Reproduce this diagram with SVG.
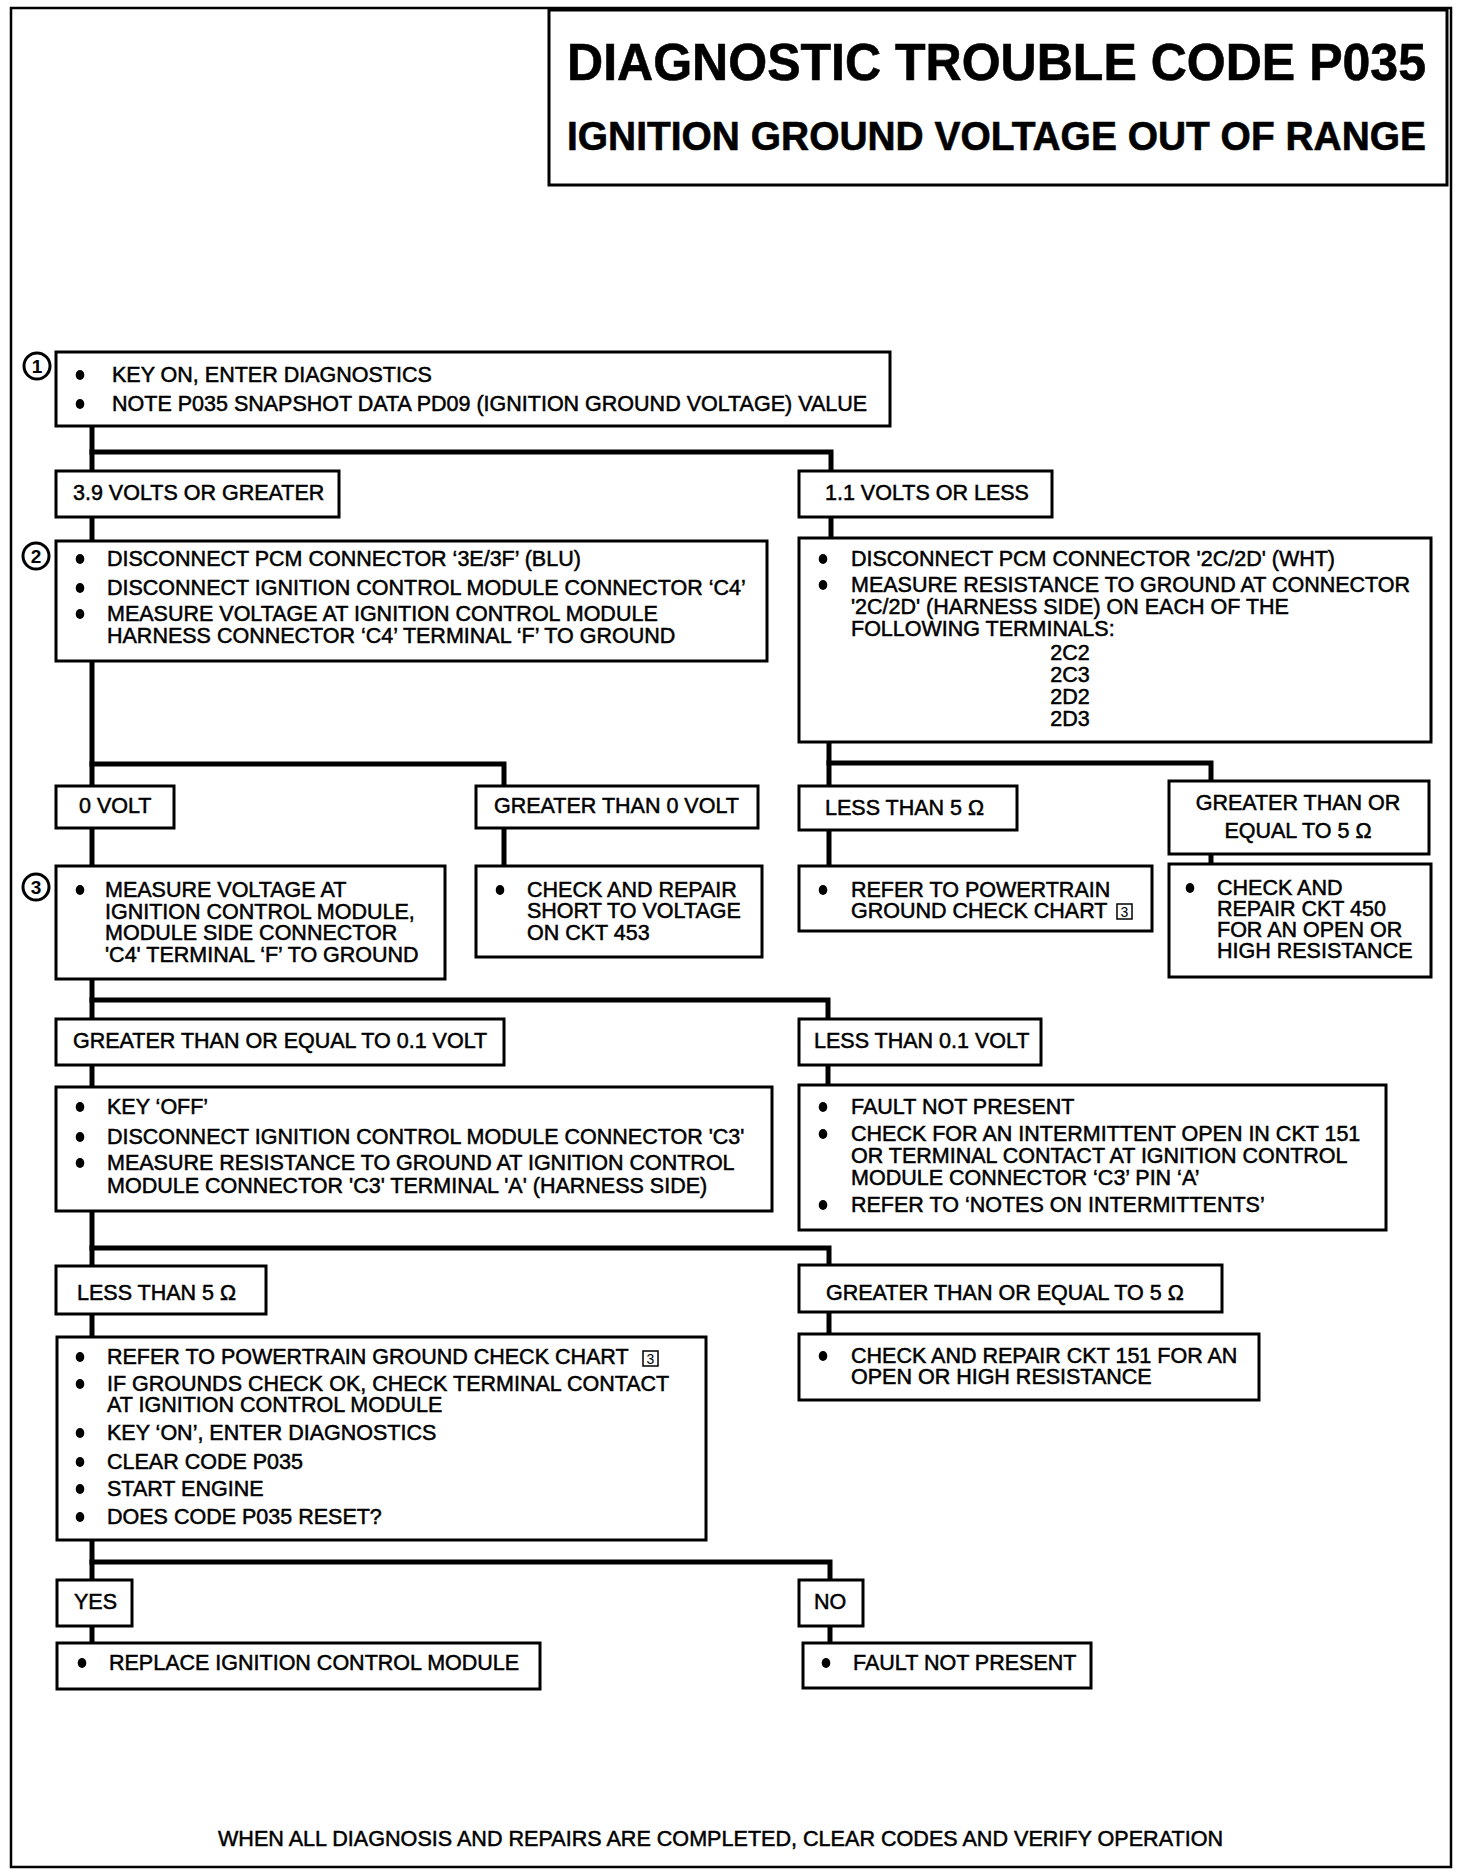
<svg xmlns="http://www.w3.org/2000/svg" width="1472" height="1876" viewBox="0 0 1472 1876">
<style>
.frame{fill:none;stroke:#000;stroke-width:2.5}
.box{fill:#fff;stroke:#000;stroke-width:3}
.tbox{fill:#fff;stroke:#000;stroke-width:3}
.conn{fill:none;stroke:#000;stroke-width:5;stroke-linejoin:miter;stroke-linecap:square}
.t{font-family:"Liberation Sans",Arial,Helvetica,sans-serif;font-size:21.5px;fill:#000;stroke:#000;stroke-width:0.5}
.tc{text-anchor:middle}
.title{font-family:"Liberation Sans",Arial,Helvetica,sans-serif;font-weight:bold;fill:#000;stroke:#000;stroke-width:0.6}
.num{font-family:"Liberation Sans",Arial,sans-serif;font-size:19px;font-weight:bold;fill:#000;text-anchor:middle}
.circ{fill:#fff;stroke:#000;stroke-width:3}
.bul{fill:#000}
.ref{fill:none;stroke:#000;stroke-width:1.5}
.refn{font-family:"Liberation Sans",Arial,sans-serif;font-size:14px;fill:#000;text-anchor:middle}
</style>
<defs>
<ellipse id="b" cx="0" cy="0" rx="4.3" ry="5" class="bul"/>
</defs>
<rect class="frame" x="11" y="8" width="1440" height="1859"/>

<g id="title">
<rect class="tbox" x="549" y="10" width="898" height="175"/>
<text class="title" x="567" y="80" font-size="51" textLength="859" lengthAdjust="spacingAndGlyphs">DIAGNOSTIC TROUBLE CODE P035</text>
<text class="title" x="567" y="150" font-size="40" textLength="859" lengthAdjust="spacingAndGlyphs">IGNITION GROUND VOLTAGE OUT OF RANGE</text>
</g>

<g id="connectors">
<polyline class="conn" points="92,428 92,471"/>
<polyline class="conn" points="92,452 831,452 831,471"/>
<polyline class="conn" points="92,517 92,541"/>
<polyline class="conn" points="831,517 831,538"/>
<polyline class="conn" points="92,661 92,786"/>
<polyline class="conn" points="92,764 504,764 504,786"/>
<polyline class="conn" points="829,742 829,786"/>
<polyline class="conn" points="829,763 1211,763 1211,781"/>
<polyline class="conn" points="92,828 92,866"/>
<polyline class="conn" points="504,828 504,866"/>
<polyline class="conn" points="829,830 829,866"/>
<polyline class="conn" points="1211,854 1211,864"/>
<polyline class="conn" points="92,979 92,1019"/>
<polyline class="conn" points="92,1000 828,1000 828,1019"/>
<polyline class="conn" points="92,1065 92,1087"/>
<polyline class="conn" points="828,1065 828,1085"/>
<polyline class="conn" points="92,1211 92,1266"/>
<polyline class="conn" points="92,1248 829,1248 829,1265"/>
<polyline class="conn" points="92,1314 92,1337"/>
<polyline class="conn" points="829,1312 829,1334"/>
<polyline class="conn" points="92,1540 92,1580"/>
<polyline class="conn" points="92,1562 830,1562 830,1580"/>
<polyline class="conn" points="92,1626 92,1643"/>
<polyline class="conn" points="830,1626 830,1643"/>
</g>

<g id="step1">
<circle class="circ" cx="37" cy="366" r="13"/>
<text class="num" x="37" y="373">1</text>
</g>
<g id="n1">
<rect class="box" x="56" y="352" width="834" height="74"/>
<use href="#b" x="80" y="375"/>
<text class="t" x="112" y="382">KEY ON, ENTER DIAGNOSTICS</text>
<use href="#b" x="80" y="404"/>
<text class="t" x="112" y="411">NOTE P035 SNAPSHOT DATA PD09 (IGNITION GROUND VOLTAGE) VALUE</text>
</g>

<g id="n2">
<rect class="box" x="56" y="471" width="283" height="46"/>
<text class="t" x="73" y="500">3.9 VOLTS OR GREATER</text>
</g>
<g id="n3">
<rect class="box" x="799" y="471" width="253" height="46"/>
<text class="t" x="825" y="500">1.1 VOLTS OR LESS</text>
</g>

<g id="step2">
<circle class="circ" cx="36" cy="556" r="13"/>
<text class="num" x="36" y="563">2</text>
</g>
<g id="n4">
<rect class="box" x="56" y="541" width="711" height="120"/>
<use href="#b" x="80" y="559"/>
<text class="t" x="107" y="566">DISCONNECT PCM CONNECTOR ‘3E/3F’ (BLU)</text>
<use href="#b" x="80" y="588"/>
<text class="t" x="107" y="595">DISCONNECT IGNITION CONTROL MODULE CONNECTOR ‘C4’</text>
<use href="#b" x="80" y="614"/>
<text class="t" x="107" y="621">MEASURE VOLTAGE AT IGNITION CONTROL MODULE</text>
<text class="t" x="107" y="643">HARNESS CONNECTOR ‘C4’ TERMINAL ‘F’ TO GROUND</text>
</g>
<g id="n5">
<rect class="box" x="799" y="538" width="632" height="204"/>
<use href="#b" x="823" y="559"/>
<text class="t" x="851" y="566">DISCONNECT PCM CONNECTOR '2C/2D' (WHT)</text>
<use href="#b" x="823" y="585"/>
<text class="t" x="851" y="592">MEASURE RESISTANCE TO GROUND AT CONNECTOR</text>
<text class="t" x="851" y="614">'2C/2D' (HARNESS SIDE) ON EACH OF THE</text>
<text class="t" x="851" y="636">FOLLOWING TERMINALS:</text>
<text class="t tc" x="1070" y="660">2C2</text>
<text class="t tc" x="1070" y="682">2C3</text>
<text class="t tc" x="1070" y="704">2D2</text>
<text class="t tc" x="1070" y="726">2D3</text>
</g>

<g id="n6">
<rect class="box" x="56" y="786" width="118" height="42"/>
<text class="t" x="79" y="813">0 VOLT</text>
</g>
<g id="n7">
<rect class="box" x="476" y="786" width="282" height="42"/>
<text class="t" x="494" y="813">GREATER THAN 0 VOLT</text>
</g>
<g id="n8">
<rect class="box" x="799" y="786" width="218" height="44"/>
<text class="t" x="825" y="815">LESS THAN 5 Ω</text>
</g>
<g id="n9">
<rect class="box" x="1169" y="781" width="260" height="73"/>
<text class="t tc" x="1298" y="810">GREATER THAN OR</text>
<text class="t tc" x="1298" y="838">EQUAL TO 5 Ω</text>
</g>

<g id="step3">
<circle class="circ" cx="36" cy="887" r="13"/>
<text class="num" x="36" y="894">3</text>
</g>
<g id="n10">
<rect class="box" x="56" y="866" width="389" height="113"/>
<use href="#b" x="80" y="890"/>
<text class="t" x="105" y="897">MEASURE VOLTAGE AT</text>
<text class="t" x="105" y="919">IGNITION CONTROL MODULE,</text>
<text class="t" x="105" y="940">MODULE SIDE CONNECTOR</text>
<text class="t" x="105" y="962">'C4' TERMINAL ‘F’ TO GROUND</text>
</g>
<g id="n11">
<rect class="box" x="476" y="866" width="286" height="91"/>
<use href="#b" x="500" y="890"/>
<text class="t" x="527" y="897">CHECK AND REPAIR</text>
<text class="t" x="527" y="918">SHORT TO VOLTAGE</text>
<text class="t" x="527" y="940">ON CKT 453</text>
</g>
<g id="n12">
<rect class="box" x="799" y="866" width="353" height="65"/>
<use href="#b" x="823" y="890"/>
<text class="t" x="851" y="897">REFER TO POWERTRAIN</text>
<text class="t" x="851" y="918">GROUND CHECK CHART</text>
<rect class="ref" x="1117" y="904" width="15" height="15"/>
<text class="refn" x="1124.5" y="917">3</text>
</g>
<g id="n13">
<rect class="box" x="1169" y="864" width="262" height="113"/>
<use href="#b" x="1190" y="888"/>
<text class="t" x="1217" y="895">CHECK AND</text>
<text class="t" x="1217" y="916">REPAIR CKT 450</text>
<text class="t" x="1217" y="937">FOR AN OPEN OR</text>
<text class="t" x="1217" y="958">HIGH RESISTANCE</text>
</g>

<g id="n14">
<rect class="box" x="56" y="1019" width="448" height="46"/>
<text class="t" x="73" y="1048">GREATER THAN OR EQUAL TO 0.1 VOLT</text>
</g>
<g id="n15">
<rect class="box" x="799" y="1019" width="242" height="46"/>
<text class="t" x="814" y="1048">LESS THAN 0.1 VOLT</text>
</g>

<g id="n16">
<rect class="box" x="56" y="1087" width="716" height="124"/>
<use href="#b" x="80" y="1107"/>
<text class="t" x="107" y="1114">KEY ‘OFF’</text>
<use href="#b" x="80" y="1137"/>
<text class="t" x="107" y="1144">DISCONNECT IGNITION CONTROL MODULE CONNECTOR 'C3'</text>
<use href="#b" x="80" y="1163"/>
<text class="t" x="107" y="1170">MEASURE RESISTANCE TO GROUND AT IGNITION CONTROL</text>
<text class="t" x="107" y="1193">MODULE CONNECTOR 'C3' TERMINAL 'A' (HARNESS SIDE)</text>
</g>
<g id="n17">
<rect class="box" x="799" y="1085" width="587" height="145"/>
<use href="#b" x="823" y="1107"/>
<text class="t" x="851" y="1114">FAULT NOT PRESENT</text>
<use href="#b" x="823" y="1134"/>
<text class="t" x="851" y="1141">CHECK FOR AN INTERMITTENT OPEN IN CKT 151</text>
<text class="t" x="851" y="1163">OR TERMINAL CONTACT AT IGNITION CONTROL</text>
<text class="t" x="851" y="1185">MODULE CONNECTOR ‘C3’ PIN ‘A’</text>
<use href="#b" x="823" y="1205"/>
<text class="t" x="851" y="1212">REFER TO ‘NOTES ON INTERMITTENTS’</text>
</g>

<g id="n18">
<rect class="box" x="56" y="1266" width="210" height="48"/>
<text class="t" x="77" y="1300">LESS THAN 5 Ω</text>
</g>
<g id="n19">
<rect class="box" x="799" y="1265" width="423" height="47"/>
<text class="t" x="826" y="1300">GREATER THAN OR EQUAL TO 5 Ω</text>
</g>

<g id="n20">
<rect class="box" x="57" y="1337" width="649" height="203"/>
<use href="#b" x="80" y="1357"/>
<text class="t" x="107" y="1364">REFER TO POWERTRAIN GROUND CHECK CHART</text>
<rect class="ref" x="643" y="1351" width="15" height="15"/>
<text class="refn" x="650.5" y="1364">3</text>
<use href="#b" x="80" y="1384"/>
<text class="t" x="107" y="1391">IF GROUNDS CHECK OK, CHECK TERMINAL CONTACT</text>
<text class="t" x="107" y="1412">AT IGNITION CONTROL MODULE</text>
<use href="#b" x="80" y="1433"/>
<text class="t" x="107" y="1440">KEY ‘ON’,  ENTER DIAGNOSTICS</text>
<use href="#b" x="80" y="1462"/>
<text class="t" x="107" y="1469">CLEAR CODE P035</text>
<use href="#b" x="80" y="1489"/>
<text class="t" x="107" y="1496">START ENGINE</text>
<use href="#b" x="80" y="1517"/>
<text class="t" x="107" y="1524">DOES CODE P035 RESET?</text>
</g>
<g id="n21">
<rect class="box" x="799" y="1334" width="460" height="66"/>
<use href="#b" x="823" y="1356"/>
<text class="t" x="851" y="1363">CHECK AND REPAIR CKT 151 FOR AN</text>
<text class="t" x="851" y="1384">OPEN OR HIGH RESISTANCE</text>
</g>

<g id="n22">
<rect class="box" x="57" y="1580" width="75" height="46"/>
<text class="t" x="74" y="1609">YES</text>
</g>
<g id="n23">
<rect class="box" x="799" y="1580" width="64" height="46"/>
<text class="t" x="814" y="1609">NO</text>
</g>
<g id="n24">
<rect class="box" x="57" y="1643" width="483" height="46"/>
<use href="#b" x="82" y="1663"/>
<text class="t" x="109" y="1670">REPLACE IGNITION CONTROL MODULE</text>
</g>
<g id="n25">
<rect class="box" x="803" y="1643" width="288" height="45"/>
<use href="#b" x="826" y="1663"/>
<text class="t" x="853" y="1670">FAULT NOT PRESENT</text>
</g>

<g id="footer">
<text class="t" x="218" y="1846" textLength="1005" lengthAdjust="spacingAndGlyphs">WHEN ALL DIAGNOSIS AND REPAIRS ARE COMPLETED, CLEAR CODES AND VERIFY OPERATION</text>
</g>
</svg>
